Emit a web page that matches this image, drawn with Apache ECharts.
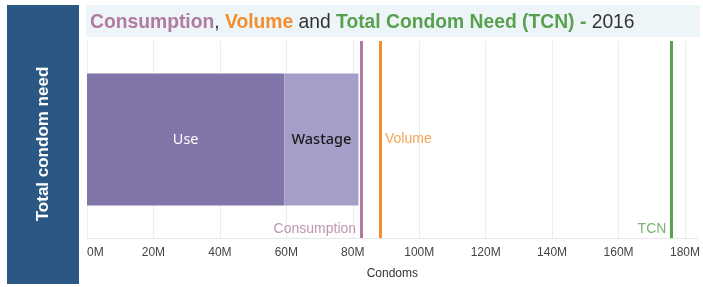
<!DOCTYPE html>
<html><head><meta charset="utf-8">
<script src="https://cdn.jsdelivr.net/npm/echarts@6/dist/echarts.min.js"></script>
<style>html,body{margin:0;padding:0;background:#fff}#c{width:703px;height:287px}</style>
</head><body><div id="c"></div>
<script>
const categories = ['Total condom need'];
const useValues = [59.4];
const wastageValues = [22.3];
const refNames = ['Consumption', 'Volume', 'TCN'];
const refValues = [82.5, 88.2, 175.9];
const tickValues = [0, 20, 40, 60, 80, 100, 120, 140, 160, 180];

const chart = echarts.init(document.getElementById('c'));
const F = 'Liberation Sans, Arial, sans-serif';
const refColors = ['#b07aa1', '#f28e2b', '#59a14f'];
const labelPos = [
  {y: 0.046, pos: 'left'},
  {y: 0.5, pos: 'right'},
  {y: 0.046, pos: 'left'}
];

chart.setOption({
  animation: false,
  textStyle: {fontFamily: F},
  graphic: [
    {type: 'rect', left: 7, top: 5, shape: {width: 72, height: 279}, style: {fill: '#2a5783'}, z: -1},
    {type: 'text', x: 43, y: 144, rotation: Math.PI / 2,
     style: {text: 'Total condom need', fill: '#fff', font: 'bold 17px Liberation Sans, Arial, sans-serif', align: 'center', verticalAlign: 'middle'}},
    {type: 'rect', left: 86, top: 5, shape: {width: 614, height: 32}, style: {fill: '#eef5f9'}, z: -1}
  ],
  title: {
    left: 85, top: 8,
    text: '{c|Consumption}{d|, }{v|Volume}{d| and }{t|Total Condom Need (TCN) - }{d|2016}',
    textStyle: {
      fontWeight: 'normal',
      rich: {
        c: {fontSize: 19.3, fontWeight: 'bold', color: '#b07aa1', fontFamily: F},
        v: {fontSize: 19.3, fontWeight: 'bold', color: '#f28e2b', fontFamily: F},
        t: {fontSize: 19.3, fontWeight: 'bold', color: '#59a14f', fontFamily: F},
        d: {fontSize: 19.3, fontWeight: 'normal', color: '#333', fontFamily: F}
      }
    }
  },
  grid: {left: 87, right: 3, top: 41, bottom: 49, containLabel: false},
  xAxis: {
    type: 'value', min: 0, max: 183.8, interval: 20,
    name: 'Condoms', nameLocation: 'middle', nameGap: 30,
    nameTextStyle: {color: '#333', fontSize: 12, fontFamily: F},
    axisLine: {show: true, lineStyle: {color: '#e6e6e6'}},
    axisTick: {show: false},
    axisLabel: {
      color: '#444', fontSize: 12, margin: 9, fontFamily: F, alignMinLabel: 'left',
      formatter: v => (tickValues.indexOf(Math.round(v)) >= 0 && Math.abs(v - Math.round(v)) < 1e-6) ? v + 'M' : ''
    },
    splitLine: {show: true, showMaxLine: false, lineStyle: {color: '#ececec'}}
  },
  yAxis: [
    {type: 'category', data: categories, show: false},
    {type: 'value', min: 0, max: 1, show: false}
  ],
  series: [
    {type: 'bar', name: 'Use', stack: 's', data: useValues, barWidth: 132, yAxisIndex: 0,
     itemStyle: {color: '#8275a9'},
     label: {show: true, formatter: 'Use', color: '#fff', fontSize: 14.5, fontFamily: 'Noto Sans, sans-serif'}},
    {type: 'bar', name: 'Wastage', stack: 's', data: wastageValues, barWidth: 132, yAxisIndex: 0,
     itemStyle: {color: '#a49fc8'},
     label: {show: true, formatter: 'Wastage', color: '#1a1a1a', fontSize: 14.5, fontWeight: 500, fontFamily: 'Noto Sans, sans-serif'}},
    {type: 'scatter', yAxisIndex: 1, symbolSize: 0, silent: true,
     data: refValues.map((v, i) => ({
       value: [v, labelPos[i].y],
       label: {show: true, formatter: refNames[i], position: labelPos[i].pos, distance: 5,
               color: refColors[i], fontSize: 14, fontFamily: F}
     })),
     markLine: {
       silent: true, symbol: ['none', 'none'], label: {show: false},
       data: refValues.map((v, i) => ({xAxis: v, lineStyle: {color: refColors[i], width: 3, type: 'solid'}}))
     }
    }
  ]
});
</script></body></html>
